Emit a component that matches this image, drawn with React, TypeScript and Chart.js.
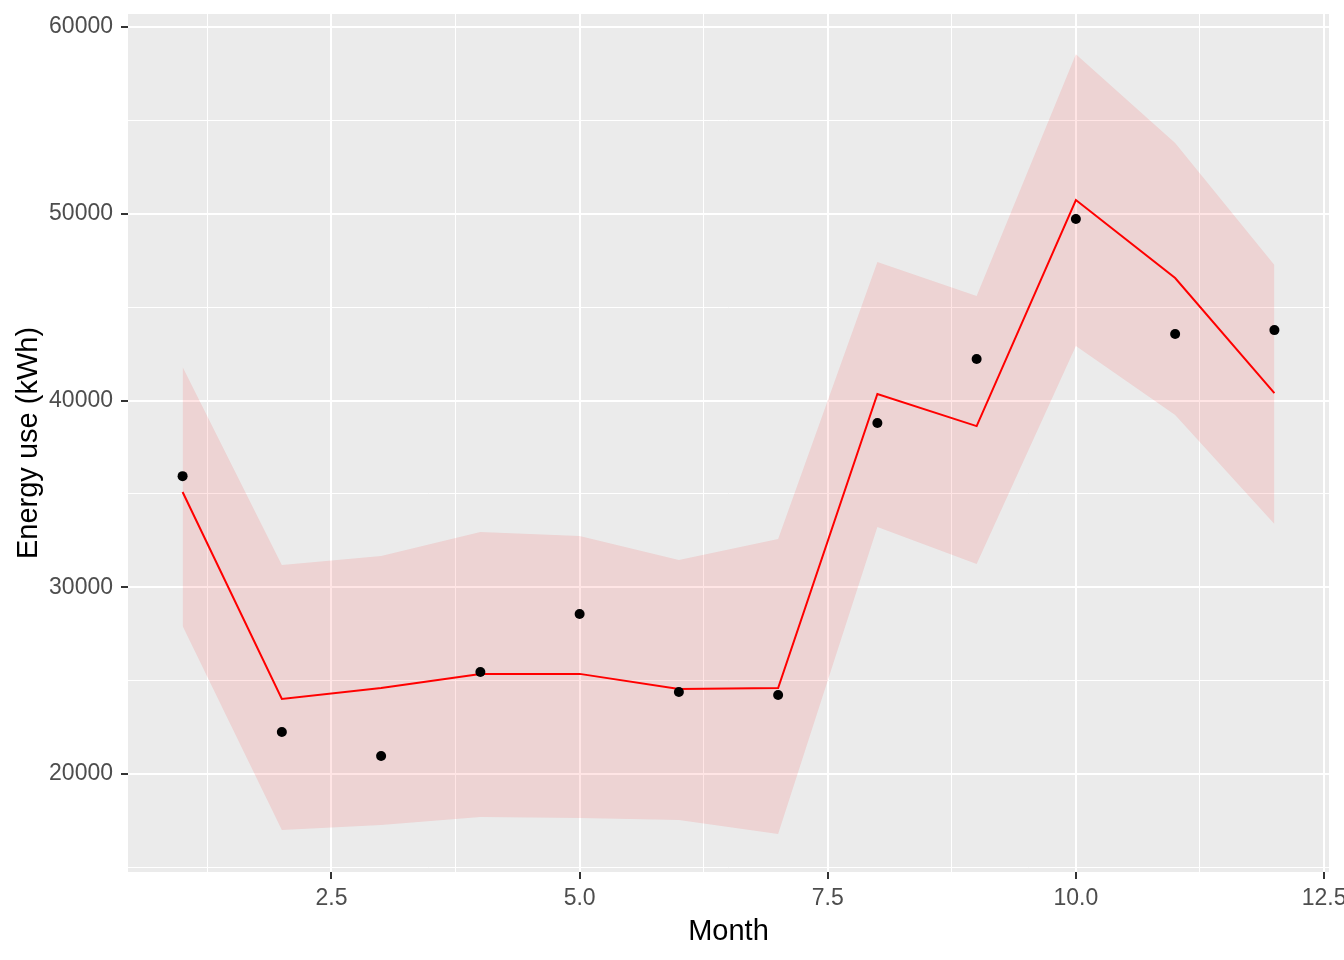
import React, { useEffect, useRef } from "react";
import { Chart, registerables } from "chart.js";

Chart.register(...registerables);

const months = [1, 2, 3, 4, 5, 6, 7, 8, 9, 10, 11, 12];
const energyUse = [35950, 22250, 20960, 25460, 28570, 24390, 24230, 38800, 42220, 49720, 43560, 43770];
const fitted = [35100, 24020, 24600, 25360, 25360, 24550, 24600, 40350, 38630, 50740, 46560, 40400];
const upperBand = [41790, 31190, 31670, 32960, 32740, 31460, 32580, 47420, 45600, 58550, 53790, 47260];
const lowerBand = [27930, 17000, 17270, 17700, 17640, 17540, 16790, 33230, 31250, 42920, 39220, 33390];
const xTicks = [1.25, 2.5, 3.75, 5, 6.25, 7.5, 8.75, 10, 11.25, 12.5];
const xMajor = [2.5, 5, 7.5, 10, 12.5];
const yTicks = [15000, 20000, 25000, 30000, 35000, 40000, 45000, 50000, 55000, 60000];
const yMajor = [20000, 30000, 40000, 50000, 60000];

const FONT = "'Liberation Sans', Arial, sans-serif";

const panelBg = {
  id: "panelBg",
  beforeDraw(chart: any) {
    const { ctx, chartArea } = chart;
    ctx.save();
    ctx.fillStyle = "#EBEBEB";
    ctx.fillRect(chartArea.left, chartArea.top, chartArea.right - chartArea.left, chartArea.bottom - chartArea.top);
    ctx.restore();
  },
};

const pts = (ys: number[]) => months.map((m, i) => ({ x: m, y: ys[i] }));

export default function App() {
  const ref = useRef<HTMLCanvasElement>(null);
  useEffect(() => {
    document.body.style.margin = "0";
    const chart = new Chart(ref.current as HTMLCanvasElement, {
      type: "line",
      data: {
        datasets: [
          {
            data: pts(energyUse),
            showLine: false,
            pointRadius: 5,
            pointBackgroundColor: "#000000",
            pointBorderColor: "#000000",
            pointBorderWidth: 0,
            fill: false,
          },
          {
            data: pts(fitted),
            borderColor: "#FF0000",
            borderWidth: 2,
            pointRadius: 0,
            fill: false,
            tension: 0,
          },
          {
            data: pts(upperBand),
            borderWidth: 0,
            borderColor: "rgba(0,0,0,0)",
            pointRadius: 0,
            backgroundColor: "rgba(255,0,0,0.1)",
            fill: "+1",
            tension: 0,
          },
          {
            data: pts(lowerBand),
            borderWidth: 0,
            borderColor: "rgba(0,0,0,0)",
            pointRadius: 0,
            fill: false,
            tension: 0,
          },
        ],
      },
      options: {
        animation: false,
        responsive: false,
        events: [],
        layout: { padding: { top: 14, right: 15, left: 0, bottom: 0 } },
        plugins: { legend: { display: false }, tooltip: { enabled: false } },
        scales: {
          x: {
            type: "linear",
            min: 0.45,
            max: 12.55,
            afterBuildTicks: (s: any) => {
              s.ticks = xTicks.map((v) => ({ value: v }));
            },
            afterFit: (s: any) => {
              s.height = 88;
              s.paddingLeft = 0;
              s.paddingRight = 0;
            },
            border: { display: false },
            grid: {
              color: "#FFFFFF",
              lineWidth: (c: any) => (c.tick && xMajor.includes(c.tick.value) ? 2 : 1),
              tickLength: 7,
              tickWidth: 2,
              tickColor: (c: any) => (c.tick && xMajor.includes(c.tick.value) ? "#333333" : "rgba(0,0,0,0)"),
            },
            ticks: {
              autoSkip: false,
              maxRotation: 0,
              padding: 6,
              color: "#4D4D4D",
              font: { family: FONT, size: 23 },
              callback: (v: any) => (xMajor.includes(Number(v)) ? Number(v).toFixed(1) : ""),
            },
            title: {
              display: true,
              text: "Month",
              color: "#000000",
              font: { family: FONT, size: 29 },
              padding: { top: 0, bottom: 11 },
            },
          },
          y: {
            type: "linear",
            min: 14750,
            max: 60700,
            afterBuildTicks: (s: any) => {
              s.ticks = yTicks.map((v) => ({ value: v }));
            },
            afterFit: (s: any) => {
              s.width = 128;
              s.paddingTop = 0;
              s.paddingBottom = 0;
            },
            border: { display: false },
            grid: {
              color: "#FFFFFF",
              lineWidth: (c: any) => (c.tick && yMajor.includes(c.tick.value) ? 2 : 1),
              tickLength: 7,
              tickWidth: 2,
              tickColor: (c: any) => (c.tick && yMajor.includes(c.tick.value) ? "#333333" : "rgba(0,0,0,0)"),
            },
            ticks: {
              autoSkip: false,
              padding: 8,
              color: "#4D4D4D",
              font: { family: FONT, size: 23 },
              callback: (v: any) => (yMajor.includes(Number(v)) ? String(v) : ""),
            },
            title: {
              display: true,
              text: "Energy use (kWh)",
              color: "#000000",
              font: { family: FONT, size: 29 },
              padding: { top: 12, bottom: 0 },
            },
          },
        },
      },
      plugins: [panelBg],
    } as any);
    return () => chart.destroy();
  }, []);
  return (
    <div style={{ position: "absolute", left: 0, top: 0, width: 1344, height: 960, background: "#FFFFFF" }}>
      <canvas ref={ref} width={1344} height={960} />
    </div>
  );
}
